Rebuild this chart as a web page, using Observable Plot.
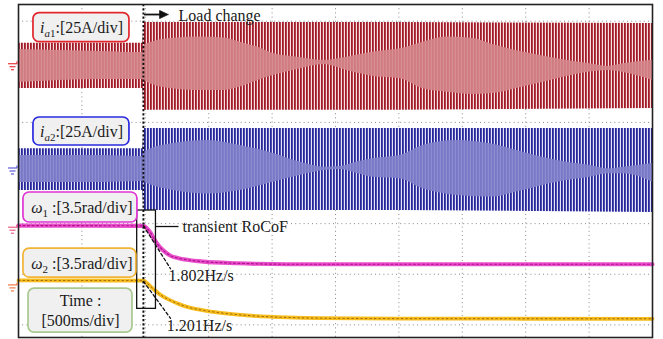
<!DOCTYPE html>
<html><head><meta charset="utf-8">
<script src="https://cdn.jsdelivr.net/npm/d3@7"></script>
<script src="https://cdn.jsdelivr.net/npm/@observablehq/plot@0.6"></script>
<style>body{margin:0;background:#fff;} svg{display:block}</style>
</head><body><div id="chart"></div>
<script>
// ---------------- data ----------------
const gridTimes = [0.5, 1, 1.5, 2, 2.5, 3, 3.5, 4, 4.5];   // s (500 ms/div)
const gridDivs = [0, 1, 2, 3, 4, 5, 6];                     // vertical divisions
const loadChangeTime = 0.985;                               // s

// channel settings
const ampPerDiv = 25;     // A/div
const radPerDiv = 3.5;    // rad/s per div
const groundIa1 = 5.09, groundIa2 = 3.06, groundW1 = 1.88, groundW2 = 0.74; // div

// i_a1 envelopes (A)
const ia1OuterTime = [0, 0.98, 0.99, 3.0, 5.0];
const ia1OuterHi = [11.8, 11.8, 22.1, 22.1, 21.6];
const ia1OuterLo = [-10.5, -10.5, -21.3, -21.3, -20.4];
const ia1Time = [0, 0.65, 0.98, 0.99, 1.20, 1.44, 1.62, 1.75, 1.89, 2.01, 2.20, 2.41, 2.59, 2.80, 3.01, 3.19, 3.38, 3.59, 3.72, 3.98, 4.25, 4.51, 4.65, 4.77, 5.00];
const ia1InnerHi = [8.8, 7.8, 7.3, 10.8, 14.2, 14.9, 14.5, 12.4, 9.9, 6.8, 5.0, 3.4, 5.0, 7.5, 9.1, 12.4, 14.9, 14.2, 11.6, 7.5, 4.2, 1.7, 0.4, 1.7, 3.4];
const ia1InnerLo = [-7.5, -6.0, -6.0, -6.5, -10.5, -11.5, -11.5, -9.8, -6.5, -4.1, -1.1, 1.4, -1.6, -4.6, -5.7, -10.6, -12.3, -13.4, -13.1, -9.8, -5.7, -2.4, -1.6, -2.6, -6.5];

// i_a2 envelopes (A)
const ia2OuterTime = [0, 0.98, 0.99, 3.0, 5.0];
const ia2OuterHi = [10.5, 10.5, 20.5, 20.5, 20.5];
const ia2OuterLo = [-10.1, -10.1, -20.0, -20.0, -21.0];
const ia2Time = [0, 0.65, 0.98, 0.99, 1.22, 1.49, 1.75, 2.01, 2.22, 2.41, 2.54, 2.67, 2.80, 3.01, 3.19, 3.46, 3.72, 3.98, 4.25, 4.51, 4.65, 4.77, 5.00];
const ia2InnerHi = [7.2, 7.2, 6.7, 8.8, 13.1, 14.6, 12.1, 8.2, 3.9, 1.4, 1.7, 3.9, 5.7, 7.2, 12.1, 14.6, 13.0, 8.8, 4.7, 2.2, 0.6, 1.4, 3.2];
const ia2InnerLo = [-6.2, -6.2, -5.7, -6.0, -10.1, -11.8, -10.1, -6.0, -2.7, -0.3, 0.3, -1.7, -3.6, -4.4, -9.3, -12.6, -13.4, -10.1, -6.0, -3.6, -1.9, -1.9, -6.0];

// ω1, ω2 (rad/s relative to channel ground)
const w1Time = [0, 0.985, 1.015, 1.041, 1.067, 1.094, 1.120, 1.159, 1.199, 1.262, 1.330, 1.459, 1.727, 2.121, 5.0];
const w1Value = [0.28, 0.27, 0.07, -0.21, -0.62, -0.97, -1.25, -1.56, -1.80, -1.97, -2.08, -2.21, -2.32, -2.39, -2.39];
const w2Time = [0, 0.985, 1.015, 1.067, 1.120, 1.199, 1.262, 1.330, 1.459, 1.593, 1.853, 2.121, 2.382, 3.0, 5.0];
const w2Value = [0.48, 0.47, 0.28, -0.14, -0.52, -0.90, -1.14, -1.35, -1.59, -1.76, -1.97, -2.08, -2.13, -2.16, -2.17];

// RoCoF tangents
const rocofLabels = ["1.802Hz/s", "1.201Hz/s"];
const rocofT = [0.985, 1.199];
const rocofW1 = [0.28, -2.70];
const rocofW2 = [0.42, -2.14];

// label texts
const labelTexts = ["ia1:[25A/div]", "ia2:[25A/div]", "ω1 :[3.5rad/div]", "ω2 :[3.5rad/div]"];
const timeLabel = ["Time :", "[500ms/div]"];

// ---------------- derived tables ----------------
const sPerPx = 5 / 634, divPerPx = 6.58 / 333;
const env = (t, hi, lo, g, s) => t.map((d, i) => ({t: d, hi: g + hi[i] / s, lo: g + lo[i] / s}));
const ia1Outer = env(ia1OuterTime, ia1OuterHi, ia1OuterLo, groundIa1, ampPerDiv);
const ia1Inner = env(ia1Time, ia1InnerHi, ia1InnerLo, groundIa1, ampPerDiv);
const ia2Outer = env(ia2OuterTime, ia2OuterHi, ia2OuterLo, groundIa2, ampPerDiv);
const ia2Inner = env(ia2Time, ia2InnerHi, ia2InnerLo, groundIa2, ampPerDiv);
const w1 = w1Time.map((t, i) => ({t, v: groundW1 + w1Value[i] / radPerDiv}));
const w2 = w2Time.map((t, i) => ({t, v: groundW2 + w2Value[i] / radPerDiv}));
const tan1 = rocofT.map((t, i) => ({t, v: groundW1 + rocofW1[i] / radPerDiv}));
const tan2 = rocofT.map((t, i) => ({t, v: groundW2 + rocofW2[i] / radPerDiv}));

// annotation layout (data coords: s, div)
const boxes = [
  {x1: 0.118, x2: 0.875, y1: 5.585, y2: 6.158, cx: 0.497, cy: 5.87, color: "#e2262d", text: labelTexts[0]},
  {x1: 0.118, x2: 0.875, y1: 3.544, y2: 4.097, cx: 0.497, cy: 3.82, color: "#2a2ae0", text: labelTexts[1]},
  {x1: 0.039, x2: 0.938, y1: 2.022, y2: 2.615, cx: 0.50, cy: 2.31, color: "#e034d6", text: labelTexts[2]},
  {x1: 0.039, x2: 0.930, y1: 0.935, y2: 1.508, cx: 0.50, cy: 1.21, color: "#f2b434", text: labelTexts[3]}
];
const timeBox = {x1: 0.079, x2: 0.899, y1: -0.152, y2: 0.717};

const grounds = [
  {g: groundIa1 + 0.02, c: "#e2262d"}, {g: groundIa2 - 0.01, c: "#4a4ad8"},
  {g: groundW1, c: "#e8507a"}, {g: groundW2, c: "#f06a3a"}
];
const gSegs = [];
for (const {g, c} of grounds) {
  const seg = (xa, xb, dya, dyb) => gSegs.push({x1: (xa - 18) * sPerPx, x2: (xb - 18) * sPerPx, y1: g - dya * divPerPx, y2: g - dyb * divPerPx, c});
  seg(7.5, 16.5, -2.5, -2.5); seg(16.5, 16.5, -5, -2.5);
  seg(9, 15, 0.5, 0.5); seg(10.5, 13.5, 3.5, 3.5);
}

const arrowY = 6.132;
const arrowHead = [
  {t: 1.180, v: arrowY}, {t: 1.113, v: arrowY + 4 * divPerPx},
  {t: 1.113, v: arrowY - 4 * divPerPx}, {t: 1.180, v: arrowY}
];

const font = "Liberation Serif";
const fs = 16;

const marks = [
  Plot.ruleX(gridTimes, {stroke: "#8a8a8a", strokeDasharray: "1,3.2", strokeWidth: 1}),
  Plot.ruleY(gridDivs, {stroke: "#8a8a8a", strokeDasharray: "1,3.2", strokeWidth: 1}),

  Plot.areaY(ia1Outer, {x: "t", y1: "lo", y2: "hi", fill: "url(#stripeRed)"}),
  Plot.areaY(ia1Inner, {x: "t", y1: "lo", y2: "hi", fill: "#d4868b", fillOpacity: 0.9, curve: "monotone-x"}),
  Plot.areaY(ia2Outer, {x: "t", y1: "lo", y2: "hi", fill: "url(#stripeBlue)"}),
  Plot.areaY(ia2Inner, {x: "t", y1: "lo", y2: "hi", fill: "#8282cb", fillOpacity: 0.9, curve: "monotone-x"}),

  Plot.line(w1, {x: "t", y: "v", stroke: "#ea4fcb", strokeWidth: 4.2, curve: "monotone-x"}),
  Plot.line(w1, {x: "t", y: "v", stroke: "#b0128e", strokeWidth: 1.2, strokeDasharray: "2,2.5", curve: "monotone-x"}),
  Plot.line(w2, {x: "t", y: "v", stroke: "#f6bd1c", strokeWidth: 3.8, curve: "monotone-x"}),
  Plot.line(w2, {x: "t", y: "v", stroke: "#9a6410", strokeWidth: 1, strokeDasharray: "1.5,3", curve: "monotone-x"}),

  Plot.line(tan1, {x: "t", y: "v", stroke: "#111", strokeWidth: 1.3, strokeDasharray: "3,2.5"}),
  Plot.line(tan2, {x: "t", y: "v", stroke: "#111", strokeWidth: 1.3, strokeDasharray: "3,2.5"}),

  Plot.ruleX([loadChangeTime], {stroke: "#111", strokeWidth: 1.9, strokeDasharray: "2.2,2"}),
  Plot.link([{a: 0.99, b: 1.12}], {x1: "a", x2: "b", y1: () => arrowY, y2: () => arrowY, stroke: "#111", strokeWidth: 1.8}),
  Plot.line(arrowHead, {x: "t", y: "v", fill: "#111", stroke: "#111", strokeWidth: 0.8}),
  Plot.text(["Load change"], {x: () => 1.262, y: () => 6.11, text: d => d, textAnchor: "start", fontSize: fs, fill: "#1a1a1a"}),

  Plot.rect([{}], {x1: () => 0.936, x2: () => 1.084, y1: () => 0.316, y2: () => 2.259, fill: "none", stroke: "#111", strokeWidth: 1.3}),
  Plot.link([{}], {x1: () => 1.084, x2: () => 1.262, y1: () => 1.943, y2: () => 1.943, stroke: "#111", strokeWidth: 1.3}),
  Plot.text(["transient RoCoF"], {x: () => 1.293, y: () => 1.943, text: d => d, textAnchor: "start", fontSize: fs, fill: "#1a1a1a"}),
  Plot.text([rocofLabels[0]], {x: () => 1.183, y: () => 0.97, text: d => d, textAnchor: "start", fontSize: fs, fill: "#1a1a1a"}),
  Plot.text([rocofLabels[1]], {x: () => 1.17, y: () => -0.02, text: d => d, textAnchor: "start", fontSize: fs, fill: "#1a1a1a"}),

  ...boxes.map(b => Plot.rect([b], {x1: "x1", x2: "x2", y1: "y1", y2: "y2", rx: 6, ry: 6, fill: "#f0f0f0", stroke: b.color, strokeWidth: 1.7})),
  Plot.text(boxes, {x: "cx", y: "cy", text: "text", fontSize: fs, fill: "#1a1a1a"}),
  Plot.rect([timeBox], {x1: "x1", x2: "x2", y1: "y1", y2: "y2", rx: 6, ry: 6, fill: "#f0f0f0", stroke: "#a9c98f", strokeWidth: 1.7}),
  Plot.text([timeLabel[0]], {x: () => 0.489, y: () => 0.48, text: d => d, fontSize: fs, fill: "#1a1a1a"}),
  Plot.text([timeLabel[1]], {x: () => 0.489, y: () => 0.085, text: d => d, fontSize: fs, fill: "#1a1a1a"}),

  Plot.frame({stroke: "#222", strokeWidth: 1.6}),
  Plot.link(gSegs, {x1: "x1", x2: "x2", y1: "y1", y2: "y2", stroke: d => d.c, strokeWidth: 1.1})
];

const svg = Plot.plot({
  width: 663, height: 339,
  marginLeft: 18, marginRight: 11, marginTop: 4, marginBottom: 2,
  x: {domain: [0, 5], axis: null},
  y: {domain: [-0.25, 6.33], axis: null},
  color: {type: "identity"},
  style: {background: "white", fontFamily: font, overflow: "visible"},
  marks
});

// stripe textures (styling of the aliased oscillation bands)
const ns = "http://www.w3.org/2000/svg";
const defs = document.createElementNS(ns, "defs");
function pattern(id, w, darkW, dark, light) {
  const p = document.createElementNS(ns, "pattern");
  p.setAttribute("id", id); p.setAttribute("patternUnits", "userSpaceOnUse");
  p.setAttribute("width", w); p.setAttribute("height", 10);
  const r1 = document.createElementNS(ns, "rect");
  r1.setAttribute("width", w); r1.setAttribute("height", 10); r1.setAttribute("fill", light);
  const r2 = document.createElementNS(ns, "rect");
  r2.setAttribute("width", darkW); r2.setAttribute("height", 10); r2.setAttribute("fill", dark);
  p.appendChild(r1); p.appendChild(r2); defs.appendChild(p);
}
pattern("stripeRed", 3.0, 1.8, "#a11a27", "#f8e0e2");
pattern("stripeBlue", 3.0, 1.8, "#26269a", "#e3e3f7");
svg.insertBefore(defs, svg.firstChild);

// rich text: italic symbols and subscripts
const rich = {
  "ia1:[25A/div]": [["i", "it"], ["a", "subit"], ["1", "sub"], [":[25A/div]", "up"]],
  "ia2:[25A/div]": [["i", "it"], ["a", "subit"], ["2", "sub"], [":[25A/div]", "up"]],
  "ω1 :[3.5rad/div]": [["ω", "it"], ["1", "sub"], [" :[3.5rad/div]", "up"]],
  "ω2 :[3.5rad/div]": [["ω", "it"], ["2", "sub"], [" :[3.5rad/div]", "up"]]
};
svg.querySelectorAll("text").forEach(t => {
  const spec = rich[t.textContent];
  if (!spec) return;
  t.textContent = "";
  let inSub = false;
  for (const [s, kind] of spec) {
    const ts = document.createElementNS(ns, "tspan");
    ts.textContent = s;
    const sub = kind.startsWith("sub");
    if (sub && !inSub) ts.setAttribute("dy", "4");
    if (!sub && inSub) ts.setAttribute("dy", "-4");
    inSub = sub;
    if (sub) ts.setAttribute("font-size", "11");
    if (kind === "it" || kind === "subit") ts.setAttribute("font-style", "italic");
    t.appendChild(ts);
  }
});

document.getElementById("chart").appendChild(svg);
</script>
</body></html>
